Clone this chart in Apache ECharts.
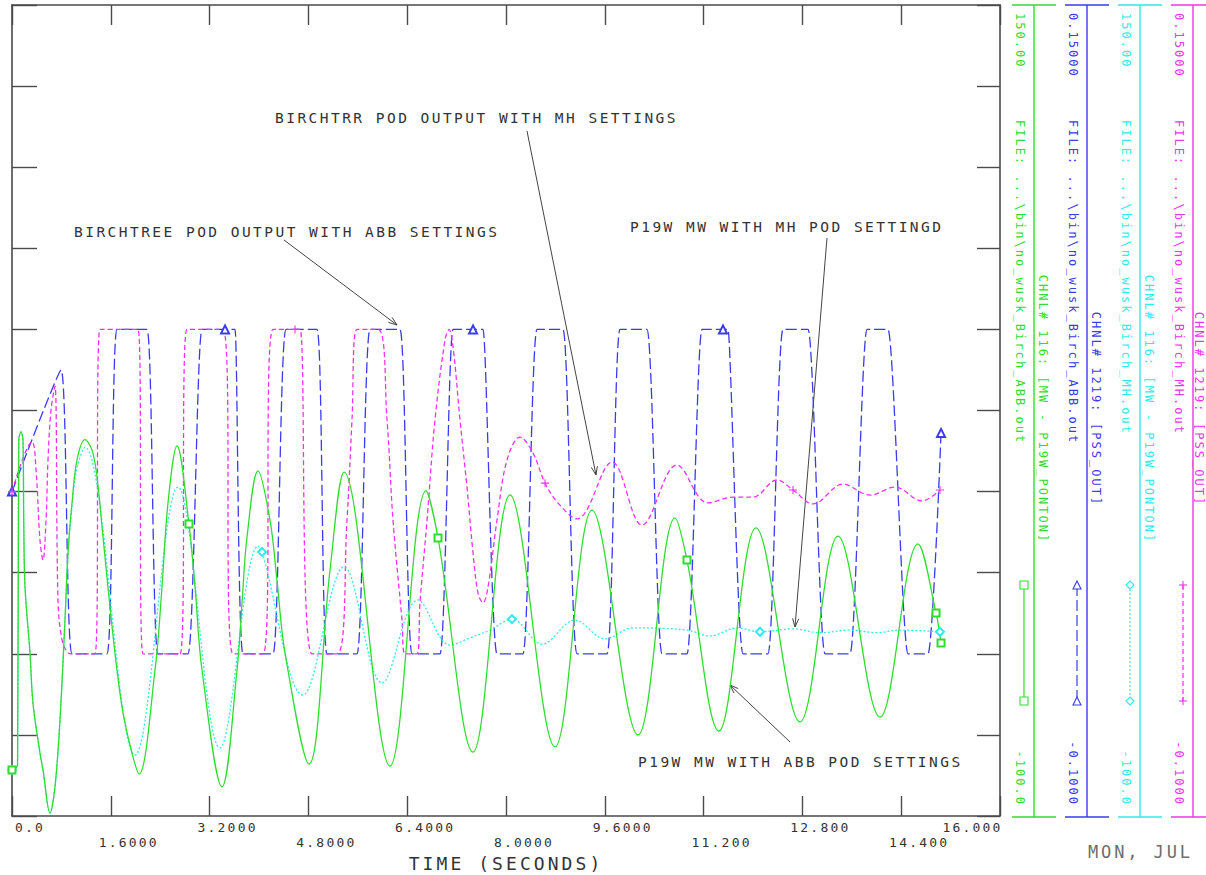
<!DOCTYPE html>
<html>
<head>
<meta charset="utf-8">
<title>P19W MW and POD output</title>
<script src="https://cdn.jsdelivr.net/npm/echarts@6/dist/echarts.min.js"></script>
<style>
  html, body { margin: 0; padding: 0; background: #ffffff; }
  #chart { width: 1206px; height: 875px; }
  /* plotter-style wide character pitch */
  #chart text { letter-spacing: 0.17em; }
</style>
</head>
<body>
<div id="chart"></div>
<script>
// ---- time axis (seconds) ----
const timeLabels = ['0.0', '1.6000', '3.2000', '4.8000', '6.4000', '8.0000',
                    '9.6000', '11.200', '12.800', '14.400', '16.000'];

// ---- channel data: [time s, value, marker flag] ----
// CHNL# 116 [MW - P19W_PONTON], ABB settings (MW)
const abbMw = [
  [0, -85.8, 1], [0.09, -84.3], [0.11, 15.9], [0.146, 18.4], [0.178, 15.9], [0.19, -8.8],
  [0.211, -29.4], [0.291, -49.7], [0.34, -65.2], [0.453, -80.6], [0.502, -85.8], [0.615, -99.1],
  [0.696, -91.0], [0.777, -70.4], [0.858, -39.6], [0.907, -18.9], [0.972, -3.5], [1.053, 9.8],
  [1.182, 16.0], [1.296, 12.8], [1.377, 4.5], [1.474, -14.0], [1.587, -35.6], [1.7, -55.0],
  [1.798, -68.2], [1.943, -80.6], [2.057, -87.1], [2.316, -55.0], [2.429, -29.4], [2.526, -3.5],
  [2.672, 14.1], [2.866, -10.0, 1], [2.964, -29.4], [3.077, -55.0], [3.401, -91.0], [3.644, -55.0],
  [3.725, -34.3], [3.806, -14.0], [3.984, 6.4], [4.178, -8.8], [4.291, -27.3], [4.421, -49.7],
  [4.81, -84.0], [5.15, -24.2], [5.377, 6.0], [6.121, -84.6], [6.704, 0.2], [6.899, -14.3, 1],
  [7.466, -80.3], [8.065, -1.0], [8.794, -78.7], [9.393, -5.7], [10.138, -75.0], [10.737, -8.1],
  [10.931, -21.1, 1], [11.449, -73.8], [12.049, -11.2], [12.761, -71.0], [13.377, -13.7],
  [14.057, -69.5], [14.672, -16.1], [14.964, -37.4, 1], [15.045, -46.7, 1]
];
// CHNL# 116 [MW - P19W_PONTON], MH settings (MW)
const mhMw = [
  [0, -85.8, 1], [0.09, -84.3], [0.11, 15.9], [0.146, 18.4], [0.178, 15.9], [0.19, -8.8],
  [0.211, -29.4], [0.291, -49.7], [0.34, -65.2], [0.453, -80.6], [0.502, -85.8], [0.615, -99.1],
  [0.696, -91.0], [0.777, -70.4], [0.858, -39.6], [0.907, -18.9], [0.972, -4.5], [1.053, 7.5],
  [1.182, 13.7], [1.992, -81.2], [2.688, 1.4], [3.368, -79.0], [3.984, -16.8], [4.05, -18.6, 1],
  [4.713, -62.7], [5.377, -23.2], [5.992, -59.0], [6.575, -33.4], [7.093, -47.3], [7.417, -45.1],
  [7.741, -42.7], [8.097, -39.3, 1], [8.583, -47.0], [9.117, -39.6], [9.603, -45.4], [10.057, -42.0],
  [10.931, -42.7], [11.304, -44.5], [11.741, -42.0], [12.113, -43.2, 1], [12.648, -42.3],
  [13.085, -43.5], [13.571, -42.7], [14.008, -43.5], [14.381, -42.7], [15.028, -43.2, 1]
];
// CHNL# 1219 [PSS_OUT], ABB settings
const abbPss = [
  [0, 0, 1], [0.794, 0.0375], [0.972, -0.05], [1.538, -0.05], [1.7, 0.05], [2.186, 0.05],
  [2.364, -0.05], [2.85, -0.05], [3.077, 0.05], [3.45, 0.05, 1], [3.611, 0.05], [3.741, -0.05],
  [4.227, -0.05], [4.437, 0.05], [4.939, 0.05], [5.101, -0.05], [5.587, -0.05], [5.798, 0.05],
  [6.283, 0.05], [6.478, -0.05], [6.931, -0.05], [7.142, 0.05], [7.466, 0.05, 1], [7.628, 0.05],
  [7.854, -0.05], [8.275, -0.05], [8.502, 0.05], [8.923, 0.05], [9.15, -0.05], [9.636, -0.05],
  [9.846, 0.05], [10.283, 0.05], [10.526, -0.05], [10.931, -0.05], [11.174, 0.05], [11.514, 0.05, 1],
  [11.595, 0.05], [11.838, -0.05], [12.243, -0.05], [12.486, 0.05], [12.891, 0.05], [13.166, -0.05],
  [13.571, -0.05], [13.846, 0.05], [14.186, 0.05], [14.51, -0.05], [14.834, -0.05], [15.045, 0.0181, 1]
];
// CHNL# 1219 [PSS_OUT], MH settings
const mhPss = [
  [0, 0, 1], [0.324, 0.0153], [0.389, 0.0067], [0.453, -0.0149], [0.502, -0.0211], [0.551, -0.0088],
  [0.583, 0.0097], [0.632, 0.0252], [0.696, 0.0325], [0.745, -0.0334], [0.81, -0.0457],
  [0.907, -0.0497], [0.972, -0.05], [1.344, -0.05], [1.425, 0.05], [2.04, 0.05], [2.121, -0.05],
  [2.721, -0.05], [2.834, 0.05], [3.417, 0.05], [3.579, -0.05], [4.065, -0.05], [4.227, 0.05],
  [4.583, 0.05, 1], [4.664, 0.05], [4.858, -0.05], [5.263, -0.05], [5.425, -0.0088], [5.506, 0.0221],
  [5.587, 0.05], [5.927, 0.05], [6.073, 0.0221], [6.17, -0.0088], [6.316, -0.0396], [6.364, -0.05],
  [6.559, -0.05], [6.607, -0.0343], [6.721, -0.0088], [6.85, 0.0221], [7.012, 0.0467], [7.077, 0.05],
  [7.142, 0.0446], [7.255, 0.0221], [7.368, 0.0014], [7.466, -0.0189], [7.547, -0.0313],
  [7.628, -0.0343], [7.709, -0.0294], [7.854, -0.0088], [8.016, 0.0097], [8.227, 0.0168],
  [8.437, 0.0119], [8.632, 0.0026, 1], [8.842, -0.0035], [9.15, -0.0084], [9.717, 0.0091],
  [10.202, -0.0103], [10.769, 0.0082], [11.271, -0.0035], [11.676, -0.0017], [12.0, -0.0017],
  [12.389, 0.0036], [12.648, 0.0005, 1], [12.972, -0.0038], [13.457, 0.0023], [13.895, -0.0011],
  [14.3, 0.0014], [14.737, -0.0029], [15.028, 0.0005, 1]
];

// ---- channel legend texts ----
const scaleMax = ['150.00', '0.15000', '150.00', '0.15000'];
const scaleMin = ['-100.0', '-0.1000', '-100.0', '-0.1000'];
const fileNames = ['FILE: ...\\bin\\no_wusk_Birch_ABB.out', 'FILE: ...\\bin\\no_wusk_Birch_ABB.out',
                   'FILE: ...\\bin\\no_wusk_Birch_MH.out', 'FILE: ...\\bin\\no_wusk_Birch_MH.out'];
const channelNames = ['CHNL# 116: [MW - P19W_PONTON]', 'CHNL# 1219: [PSS_OUT]',
                      'CHNL# 116: [MW - P19W_PONTON]', 'CHNL# 1219: [PSS_OUT]'];

// ---- annotation texts ----
const notes = ['BIRCHTRR POD OUTPUT WITH MH SETTINGS', 'BIRCHTREE POD OUTPUT WITH ABB SETTINGS',
               'P19W MW WITH MH POD SETTINGD', 'P19W MW WITH ABB POD SETTINGS'];

// ---- styling ----
const MONO = 'DejaVu Sans Mono';
const COL = { green: '#2fdd2f', blue: '#3a3af0', cyan: '#33e9e9', magenta: '#ee33ee',
              axis: '#4a4a4a', text: '#333333' };
const PLUS = 'path://M5,0L5,10M0,5L10,5';

const chart = echarts.init(document.getElementById('chart'), null, { renderer: 'svg' });

function trace(name, data, yIdx, color, dash, symbol, size, smooth) {
  return {
    type: 'line', name, data, xAxisIndex: 0, yAxisIndex: yIdx,
    encode: { x: 0, y: 1 },
    smooth,
    showSymbol: true,
    symbol: (v, p) => (p.data[2] ? symbol : 'none'),
    symbolSize: size,
    lineStyle: { color, width: 1.3, type: dash },
    itemStyle: { color, borderColor: color, borderWidth: 1.1 },
    emphasis: { disabled: true },
    animation: false
  };
}

// ---- annotation and channel-legend drawing ----
function txt(x, y, text, o) {
  return {
    type: 'text', x, y, rotation: o.rot || 0, silent: true,
    style: {
      text, fill: o.color || COL.text, fontSize: o.size, fontFamily: MONO,
      align: o.align || 'left', verticalAlign: 'middle'
    }
  };
}
function seg(x1, y1, x2, y2, color, w, dash) {
  return { type: 'line', silent: true, shape: { x1, y1, x2, y2 },
           style: { stroke: color, lineWidth: w || 1, lineDash: dash || null } };
}
function arrow(x1, y1, x2, y2) {
  const dx = x2 - x1, dy = y2 - y1, L = Math.hypot(dx, dy);
  const ux = dx / L, uy = dy / L, h = 9, a = 0.35;
  const p1 = [x2 - h * (ux * Math.cos(a) - uy * Math.sin(a)), y2 - h * (uy * Math.cos(a) + ux * Math.sin(a))];
  const p2 = [x2 - h * (ux * Math.cos(a) + uy * Math.sin(a)), y2 - h * (uy * Math.cos(a) - ux * Math.sin(a))];
  return [
    seg(x1, y1, x2, y2, '#444', 1),
    { type: 'polyline', silent: true, shape: { points: [p1, [x2, y2], p2] },
      style: { stroke: '#444', lineWidth: 1, fill: null } }
  ];
}
function sampleMark(kind, x, y, color) {
  const s = 4;
  if (kind === 'rect') return { type: 'rect', silent: true, shape: { x: x - s, y: y - s, width: 2 * s, height: 2 * s },
                                style: { stroke: color, fill: '#fff', lineWidth: 1.1 } };
  if (kind === 'triangle') return { type: 'polygon', silent: true, shape: { points: [[x, y - s], [x + s, y + s], [x - s, y + s]] },
                                    style: { stroke: color, fill: '#fff', lineWidth: 1.1 } };
  if (kind === 'diamond') return { type: 'polygon', silent: true, shape: { points: [[x, y - s], [x + s, y], [x, y + s], [x - s, y]] },
                                   style: { stroke: color, fill: '#fff', lineWidth: 1.1 } };
  return { type: 'group', silent: true, children: [seg(x - s, y, x + s, y, color, 1.1), seg(x, y - s, x, y + s, color, 1.1)] };
}

const graphics = [];
// annotations
graphics.push(txt(275, 118, notes[0], { size: 14.5 }));
graphics.push(txt(74, 232, notes[1], { size: 14.5 }));
graphics.push(txt(630, 227, notes[2], { size: 14.5 }));
graphics.push(txt(638, 762, notes[3], { size: 14.5 }));
graphics.push(...arrow(284, 240, 397, 325));
graphics.push(...arrow(527, 131, 596, 475));
graphics.push(...arrow(827, 238, 795, 627));
graphics.push(...arrow(790, 742, 730, 685));
graphics.push(txt(1088, 852, 'MON, JUL', { size: 17, color: '#6e6e6e' }));

// channel legend columns
const legendColors = [COL.green, COL.blue, COL.cyan, COL.magenta];
const legendMarks = ['rect', 'triangle', 'diamond', 'plus'];
const legendDash = [null, [11, 4], [2, 2], [5, 3]];
const ROT = -Math.PI / 2;
for (let i = 0; i < 4; i++) {
  const x0 = 1012 + i * 53, c = legendColors[i];
  graphics.push(seg(x0 + 22, 5, x0 + 22, 817, c, 1.4));
  graphics.push(seg(x0, 5, x0 + 44, 5, c, 1.4));
  graphics.push(seg(x0, 817, x0 + 44, 817, c, 1.4));
  graphics.push(txt(x0 + 8, 13, scaleMax[i], { size: 12, color: c, rot: ROT }));
  graphics.push(txt(x0 + 8, 120, fileNames[i], { size: 12, color: c, rot: ROT }));
  graphics.push(txt(Math.min(x0 + 31, 1199), 409, channelNames[i], { size: 12, color: c, rot: ROT, align: 'center' }));
  graphics.push(txt(x0 + 8, 806, scaleMin[i], { size: 12, color: c, rot: ROT, align: 'right' }));
  graphics.push(seg(x0 + 12, 585, x0 + 12, 701, c, 1.2, legendDash[i]));
  graphics.push(sampleMark(legendMarks[i], x0 + 12, 585, c));
  graphics.push(sampleMark(legendMarks[i], x0 + 12, 701, c));
}

const axisLine = { show: true, onZero: false, lineStyle: { color: COL.axis, width: 1.6 } };

const option = {
  backgroundColor: '#ffffff',
  animation: false,
  grid: { left: 12, right: 206, top: 5, bottom: 59, containLabel: false, outerBoundsMode: 'none' },
  xAxis: [
    {
      type: 'value', min: 0, max: 16, interval: 1.6, position: 'bottom',
      axisLine, splitLine: { show: false },
      axisTick: { show: true, inside: true, length: 20, lineStyle: { color: COL.axis, width: 1.4 } },
      name: 'TIME (SECONDS)', nameLocation: 'middle', nameGap: 34,
      nameTextStyle: { fontFamily: MONO, fontSize: 18, color: COL.text },
      axisLabel: {
        margin: 4, fontFamily: MONO, fontSize: 13, color: COL.text, lineHeight: 15,
        align: 'center', verticalAlign: 'top',
        showMinLabel: true, showMaxLabel: true, hideOverlap: false,
        // labels alternate between two rows; the last one sits left of its tick
        formatter: (v) => {
          const i = Math.round(v / 1.6);
          if (i === timeLabels.length - 1) return '{e|' + timeLabels[i] + '}';
          return (i % 2 ? '\n' : '') + '{a|' + timeLabels[i] + '}';
        },
        rich: {
          a: { padding: [0, 0, 0, 36] },
          e: { padding: [0, 55, 0, 0] }
        }
      }
    },
    {
      type: 'value', min: 0, max: 16, interval: 1.6, position: 'top',
      axisLine, splitLine: { show: false }, axisLabel: { show: false },
      axisTick: { show: true, inside: true, length: 20, lineStyle: { color: COL.axis, width: 1.4 } }
    }
  ],
  yAxis: [
    {
      type: 'value', min: -100, max: 150, interval: 25, position: 'left',
      axisLine, splitLine: { show: false }, axisLabel: { show: false },
      axisTick: { show: true, inside: true, length: 25, lineStyle: { color: COL.axis, width: 1.4 } }
    },
    {
      type: 'value', min: -0.1, max: 0.15, interval: 0.025, position: 'right',
      axisLine, splitLine: { show: false }, axisLabel: { show: false },
      axisTick: { show: true, inside: true, length: 23, lineStyle: { color: COL.axis, width: 1.4 } }
    }
  ],
  series: [
    trace('ABB PSS_OUT', abbPss, 1, COL.blue, [11, 4], 'emptyTriangle', 8, 0.15),
    trace('MH PSS_OUT', mhPss, 1, COL.magenta, [5, 3], PLUS, 8, 0.36),
    trace('MH MW', mhMw, 0, COL.cyan, [2, 2], 'emptyDiamond', 8, 0.36),
    trace('ABB MW', abbMw, 0, COL.green, 'solid', 'emptyRect', 7, 0.36)
  ],
  graphic: { elements: graphics }
};

chart.setOption(option);
</script>
</body>
</html>
